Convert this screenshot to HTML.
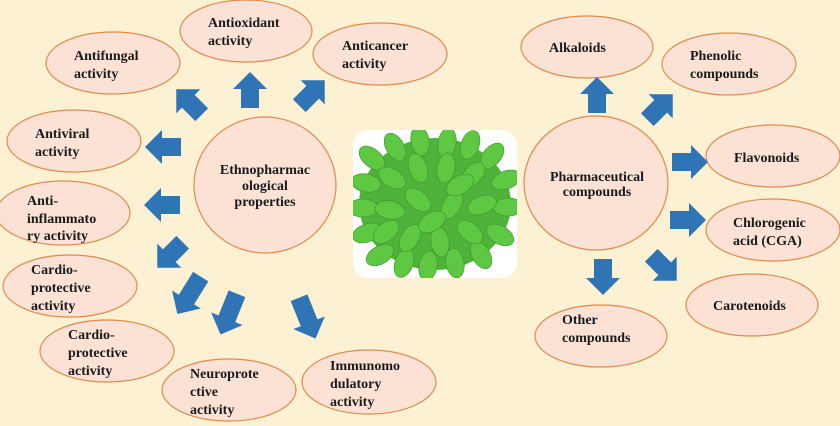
<!DOCTYPE html>
<html><head><meta charset="utf-8"><style>
html,body{margin:0;padding:0;background:#fdf1d4;}
svg{display:block;}
text{font-family:"Liberation Serif",serif;font-weight:bold;font-size:14px;fill:#1a1a1a;}
</style></head><body>
<svg width="840" height="426" viewBox="0 0 840 426" xmlns="http://www.w3.org/2000/svg">
<defs>
<polygon id="ar" points="-18,-9 1,-9 1,-17 18,0 1,17 1,9 -18,9" fill="#2f74b5"/>
<polygon id="arl" points="-24,-9 3,-9 3,-17 20,0 3,17 3,9 -24,9" fill="#2f74b5"/>
<clipPath id="cp"><rect x="353" y="130" width="164" height="148" rx="15"/></clipPath>
<ellipse id="lf" cx="0" cy="0" rx="15" ry="9" fill="#5ec843" stroke="#3d9a2c" stroke-width="0.7"/>
</defs>
<rect width="840" height="426" fill="#fdf1d4"/>
<g fill="#fbe2d5" stroke="#e08a4a" stroke-width="1.2">
<ellipse cx="246" cy="31" rx="66" ry="31"/>
<ellipse cx="113" cy="63" rx="67" ry="31"/>
<ellipse cx="380" cy="54" rx="67" ry="31"/>
<ellipse cx="74" cy="141" rx="67" ry="31"/>
<ellipse cx="63" cy="213" rx="67" ry="32"/>
<ellipse cx="70" cy="286" rx="67" ry="31"/>
<ellipse cx="107" cy="351" rx="67" ry="31"/>
<ellipse cx="229" cy="390" rx="67" ry="31"/>
<ellipse cx="369" cy="382" rx="67" ry="32"/>
<ellipse cx="265" cy="185" rx="71" ry="68"/>
<ellipse cx="587" cy="47" rx="66" ry="31"/>
<ellipse cx="729" cy="64" rx="67" ry="31"/>
<ellipse cx="773" cy="156" rx="67" ry="31"/>
<ellipse cx="773" cy="230" rx="67" ry="31"/>
<ellipse cx="752" cy="305" rx="66" ry="31"/>
<ellipse cx="601" cy="336" rx="66" ry="31"/>
<ellipse cx="596" cy="183" rx="72" ry="67"/>
</g>
<use href="#ar" transform="translate(189,102) rotate(-135)"/>
<use href="#ar" transform="translate(250,90) rotate(-90)"/>
<use href="#ar" transform="translate(312,93) rotate(-45)"/>
<use href="#ar" transform="translate(163,147) rotate(180)"/>
<use href="#ar" transform="translate(162,205) rotate(180)"/>
<use href="#ar" transform="translate(170,255) rotate(135)"/>
<use href="#arl" transform="translate(188,297) rotate(122)"/>
<use href="#arl" transform="translate(228,316) rotate(112)"/>
<use href="#arl" transform="translate(308,320) rotate(68)"/>
<use href="#ar" transform="translate(597,95) rotate(-90)"/>
<use href="#ar" transform="translate(660,107) rotate(-45)"/>
<use href="#ar" transform="translate(690,162) rotate(0)"/>
<use href="#ar" transform="translate(688,220) rotate(0)"/>
<use href="#ar" transform="translate(664,268) rotate(45)"/>
<use href="#ar" transform="translate(603,277) rotate(90)"/>
<rect x="353" y="130" width="164" height="148" rx="15" fill="#ffffff"/>
<g clip-path="url(#cp)">
<ellipse cx="435" cy="204" rx="76" ry="66" fill="#4fb23a"/>
<use href="#lf" transform="translate(372,158) rotate(40)"/>
<use href="#lf" transform="translate(395,147) rotate(60)"/>
<use href="#lf" transform="translate(420,141) rotate(80)"/>
<use href="#lf" transform="translate(447,143) rotate(100)"/>
<use href="#lf" transform="translate(470,145) rotate(110)"/>
<use href="#lf" transform="translate(492,156) rotate(130)"/>
<use href="#lf" transform="translate(506,180) rotate(160)"/>
<use href="#lf" transform="translate(366,183) rotate(10)"/>
<use href="#lf" transform="translate(363,208)"/>
<use href="#lf" transform="translate(367,233) rotate(-20)"/>
<use href="#lf" transform="translate(380,255) rotate(-30)"/>
<use href="#lf" transform="translate(404,263) rotate(-70)"/>
<use href="#lf" transform="translate(428,266) rotate(-80)"/>
<use href="#lf" transform="translate(455,263) rotate(-100)"/>
<use href="#lf" transform="translate(481,255) rotate(-120)"/>
<use href="#lf" transform="translate(500,235) rotate(-150)"/>
<use href="#lf" transform="translate(508,207) rotate(180)"/>
<use href="#lf" transform="translate(392,178) rotate(30)"/>
<use href="#lf" transform="translate(418,168) rotate(70)"/>
<use href="#lf" transform="translate(446,168) rotate(100)"/>
<use href="#lf" transform="translate(473,175) rotate(130)"/>
<use href="#lf" transform="translate(482,205) rotate(160)"/>
<use href="#lf" transform="translate(470,232) rotate(-140)"/>
<use href="#lf" transform="translate(440,242) rotate(-100)"/>
<use href="#lf" transform="translate(410,238) rotate(-60)"/>
<use href="#lf" transform="translate(390,210) rotate(10)"/>
<use href="#lf" transform="translate(418,200) rotate(40)"/>
<use href="#lf" transform="translate(452,205) rotate(120)"/>
<use href="#lf" transform="translate(432,222) rotate(-30)"/>
<use href="#lf" transform="translate(386,232) rotate(-40)"/>
<use href="#lf" transform="translate(460,185) rotate(150)"/>
</g>
<text x="208" y="27">Antioxidant</text><text x="208" y="45">activity</text>
<text x="74" y="60">Antifungal</text><text x="74" y="78">activity</text>
<text x="342" y="50">Anticancer</text><text x="342" y="68">activity</text>
<text x="35" y="138">Antiviral</text><text x="35" y="156">activity</text>
<text x="27" y="205">Anti-</text><text x="27" y="223">inflammato</text><text x="27" y="240">ry activity</text>
<text x="31" y="274">Cardio-</text><text x="31" y="292">protective</text><text x="31" y="310">activity</text>
<text x="68" y="339">Cardio-</text><text x="68" y="357">protective</text><text x="68" y="375">activity</text>
<text x="190" y="378">Neuroprote</text><text x="190" y="396">ctive</text><text x="190" y="414">activity</text>
<text x="330" y="370">Immunomo</text><text x="330" y="388">dulatory</text><text x="330" y="406">activity</text>
<g style="font-size:12.5px" text-anchor="middle">
<text x="265" y="174">Ethnopharmac</text><text x="265" y="190">ological</text><text x="265" y="206">properties</text>
<text x="597" y="181">Pharmaceutical</text><text x="597" y="196">compounds</text>
</g>
<text x="549" y="52">Alkaloids</text>
<text x="690" y="60">Phenolic</text><text x="690" y="78">compounds</text>
<text x="734" y="162">Flavonoids</text>
<text x="733" y="227">Chlorogenic</text><text x="733" y="245">acid (CGA)</text>
<text x="713" y="310">Carotenoids</text>
<text x="562" y="324">Other</text><text x="562" y="342">compounds</text>
</svg>
</body></html>
